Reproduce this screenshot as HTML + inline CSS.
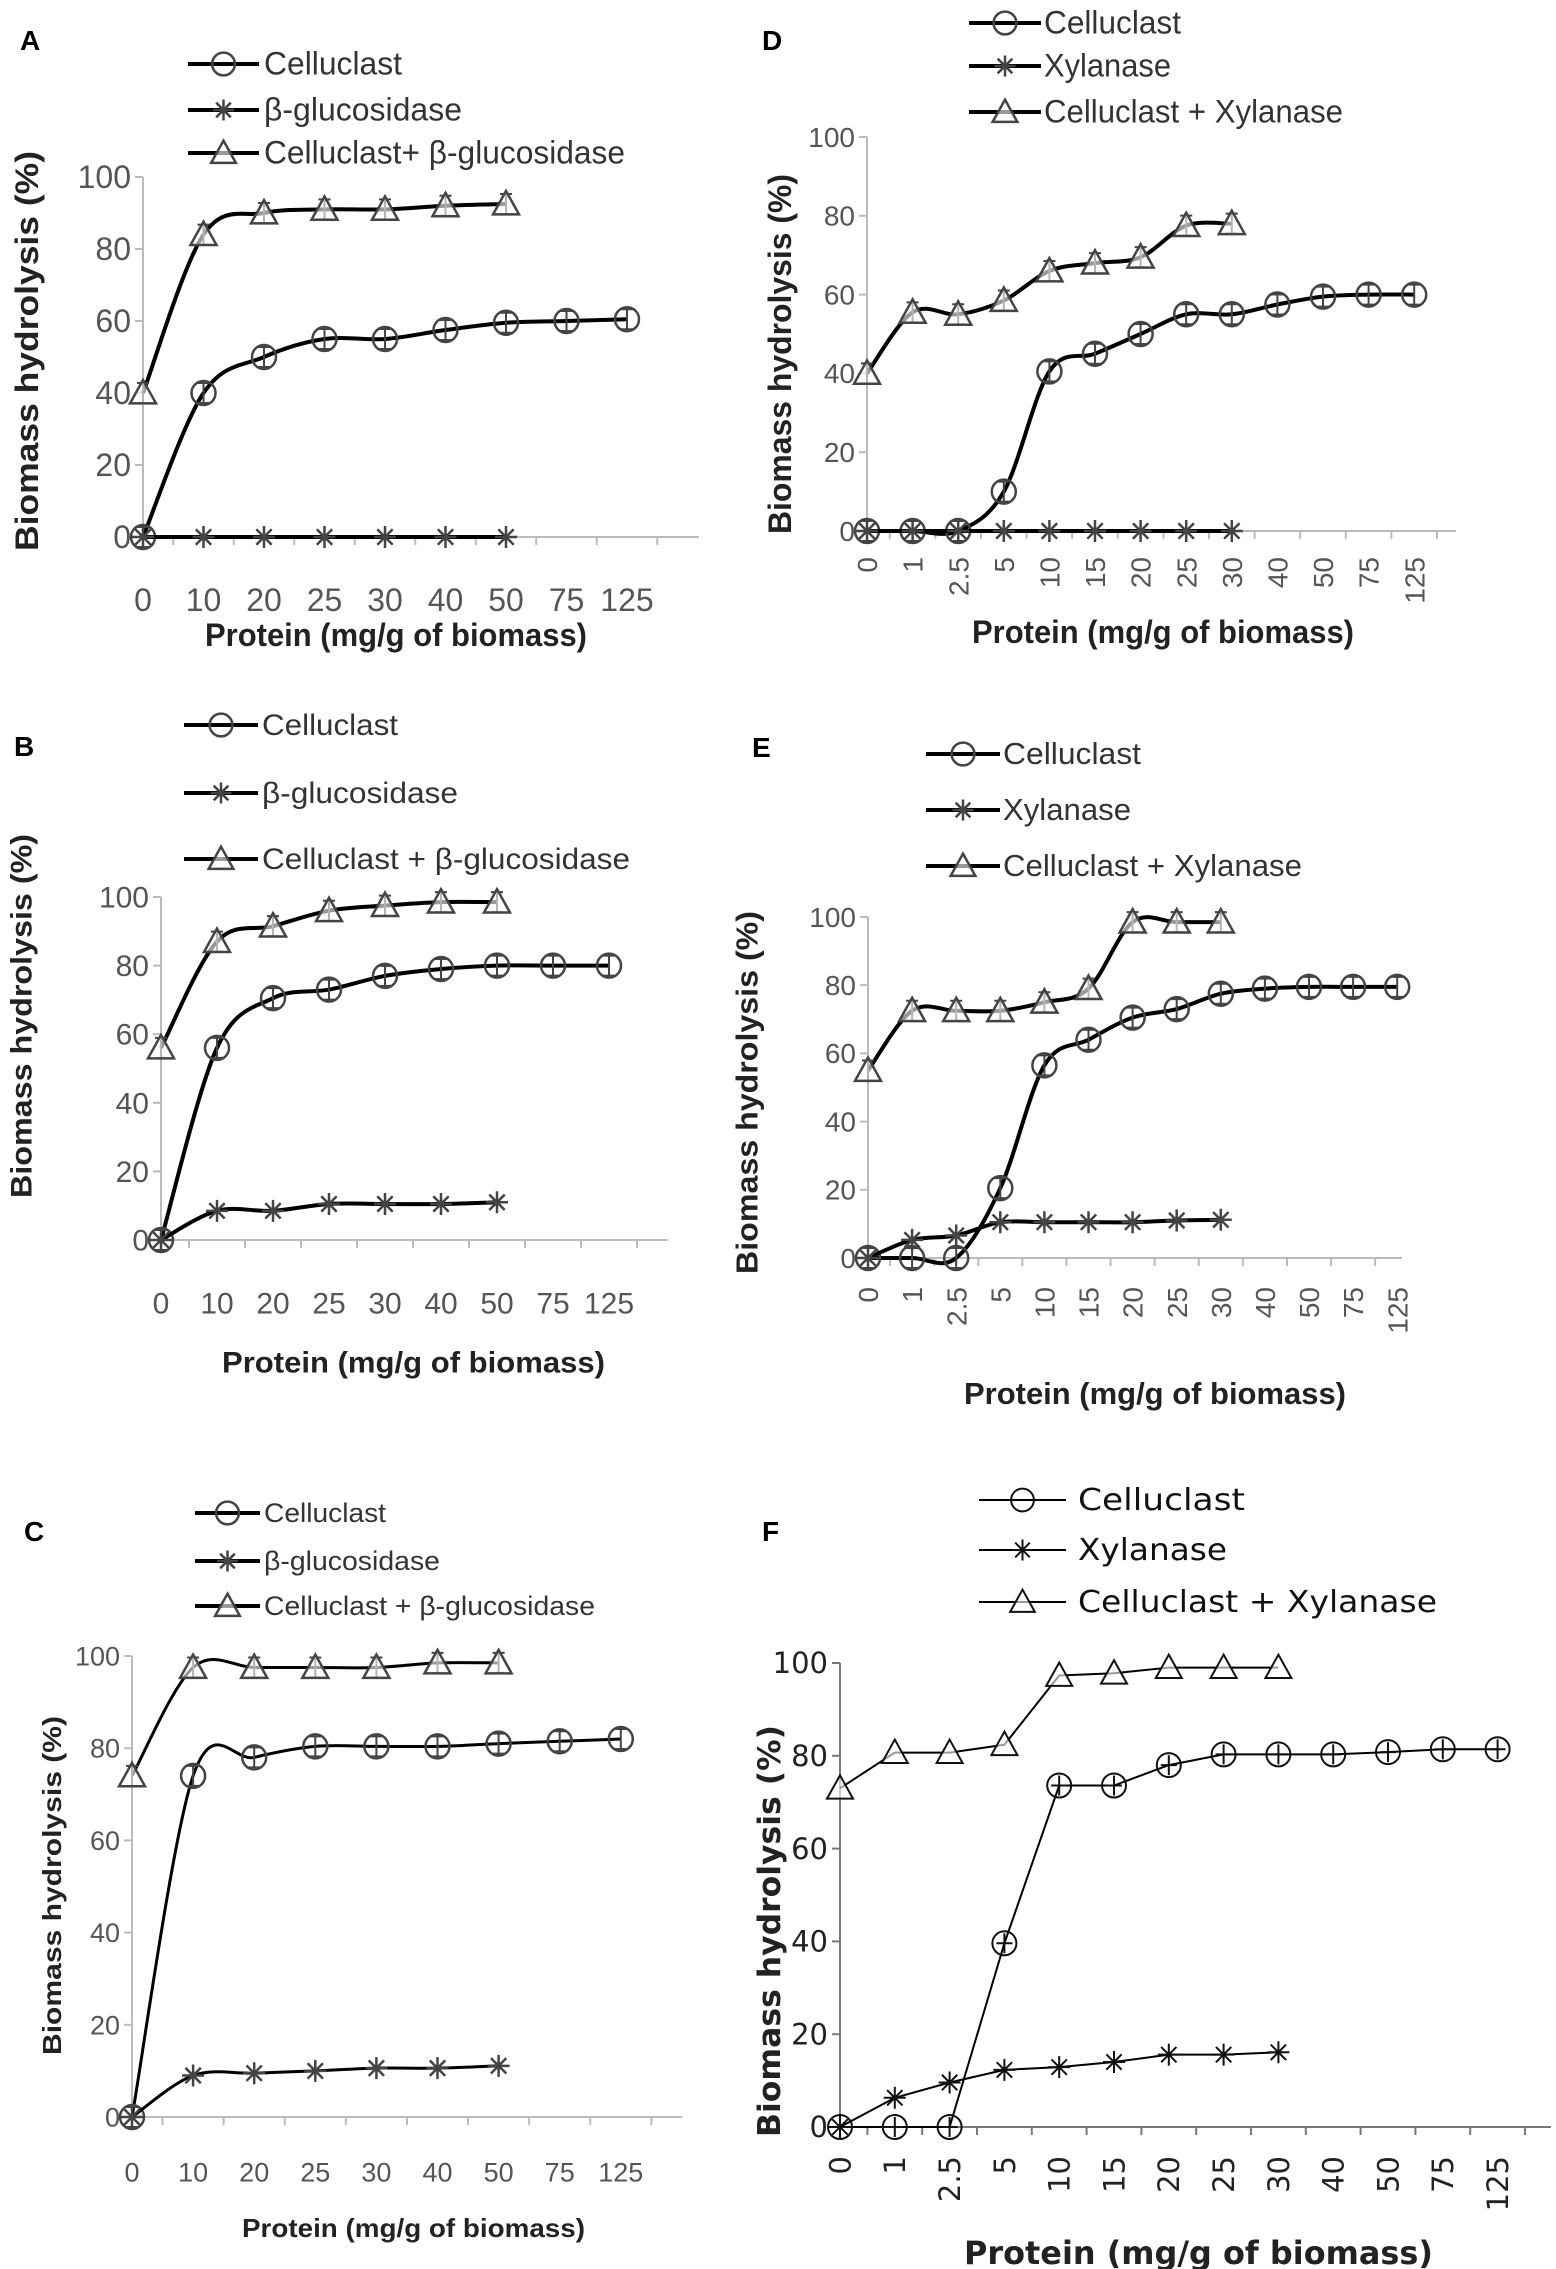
<!DOCTYPE html>
<html><head><meta charset="utf-8"><style>
html,body{margin:0;padding:0;background:#fff;}
svg{display:block;}
</style></head><body>
<svg id="fig" width="1556" height="2269" viewBox="0 0 1556 2269" xmlns="http://www.w3.org/2000/svg"></svg>
<script>
// ---- data ----
const catsBeta = ["0","10","20","25","30","40","50","75","125"];
const catsXyl = ["0","1","2.5","5","10","15","20","25","30","40","50","75","125"];
const yTicks = [0,20,40,60,80,100];

const aCellu = [0,40,50,55,55,57.5,59.5,60,60.5];
const aBeta = [0,0,0,0,0,0,0];
const aComb = [40,84,90,91,91,92,92.5];

const bCellu = [0,56,70.5,73,77,79,80,80,80];
const bBeta = [0,8.5,8.5,10.5,10.5,10.5,11];
const bComb = [56,87,91.5,96,97.5,98.5,98.5];

const cCellu = [0,74,78,80.4,80.4,80.4,81,81.5,82];
const cBeta = [0,9,9.5,10,10.6,10.6,11.1];
const cComb = [74,97.5,97.5,97.5,97.5,98.5,98.5];

const dCellu = [0,0,0,10,40.5,45,50,55,55,57.5,59.5,60,60];
const dXyl = [0,0,0,0,0,0,0,0,0];
const dComb = [40,55.5,55,58.5,66,68,69.5,77.5,78];

const eCellu = [0,0,0,20.5,56.5,64,70.5,73,77.5,79,79.5,79.5,79.5];
const eXyl = [0,5.3,6.6,10.5,10.5,10.5,10.5,11,11.2];
const eComb = [55,72.5,72.5,72.5,75,79,98.5,98.5,98.5];

const fCellu = [0,0,0,39.6,73.6,73.6,78,80.3,80.3,80.3,80.8,81.4,81.4];
const fXyl = [0,6.3,9.6,12.3,12.9,14,15.6,15.6,16.1];
const fComb = [73,80.7,80.7,82.4,97.3,97.8,99,99,99];

// ---- layout ----
const NS = "http://www.w3.org/2000/svg";
const svg = document.getElementById('fig');
function el(tag, attrs, parent, text){
  const e = document.createElementNS(NS, tag);
  for (const k in attrs) e.setAttribute(k, attrs[k]);
  if (text !== undefined) e.textContent = text;
  (parent || svg).appendChild(e);
  return e;
}
const NARROW = '"Liberation Sans Narrow","Liberation Sans",sans-serif';
const WIDE = '"DejaVu Sans","Liberation Sans",sans-serif';

const panels = [
 {id:'a', letter:'A', lx:20, ly:50, cats:catsBeta, x0:143, step:60.5, y0:537, y100:177, xend:699,
  rot:false, tickY:600, tickFs:32, titleY:635, titleX1:205, titleX2:587, titleFs:32,
  yt:{x:27, y1:551, y2:151, fs:32}, lw:4,
  leg:{x1:188, x2:259, tx:264, rows:[64,110,153], fs:32, widths:[138,198,361]},
  names:["Celluclast","β-glucosidase","Celluclast+ β-glucosidase"],
  series:[aCellu,aBeta,aComb], smooth:true, font:NARROW},
 {id:'b', letter:'B', lx:14, ly:756, cats:catsBeta, x0:161, step:56, y0:1240, y100:897, xend:668,
  rot:false, tickY:1303, tickFs:30, titleY:1362, titleX1:222, titleX2:605, titleFs:30,
  yt:{x:22, y1:1198, y2:834, fs:30}, lw:4,
  leg:{x1:184, x2:258, tx:262, rows:[725,793,859], fs:30, widths:[136,196,368]},
  names:["Celluclast","β-glucosidase","Celluclast + β-glucosidase"],
  series:[bCellu,bBeta,bComb], smooth:true, font:NARROW},
 {id:'c', letter:'C', lx:24, ly:1541, cats:catsBeta, x0:132, step:61.1, y0:2117, y100:1656, xend:682,
  rot:false, tickY:2172, tickFs:27, titleY:2228, titleX1:242, titleX2:585, titleFs:26,
  yt:{x:52, y1:2055, y2:1716, fs:26}, lw:3,
  leg:{x1:195, x2:260, tx:264, rows:[1513,1561,1606], fs:27, widths:[122,176,331]},
  names:["Celluclast","β-glucosidase","Celluclast + β-glucosidase"],
  series:[cCellu,cBeta,cComb], smooth:true, font:NARROW},
 {id:'d', letter:'D', lx:762, ly:50, cats:catsXyl, x0:867, step:45.6, y0:531, y100:137, xend:1456,
  rot:true, tickY:557, tickFs:28, titleY:632, titleX1:972, titleX2:1354, titleFs:32,
  yt:{x:780, y1:534, y2:174, fs:32}, lw:4,
  leg:{x1:969, x2:1041, tx:1044, rows:[23,66,112], fs:32, widths:[137,127,299]},
  names:["Celluclast","Xylanase","Celluclast + Xylanase"],
  series:[dCellu,dXyl,dComb], smooth:true, font:NARROW},
 {id:'e', letter:'E', lx:752, ly:757, cats:catsXyl, x0:868, step:44.1, y0:1258, y100:917, xend:1402,
  rot:true, tickY:1287, tickFs:28, titleY:1393, titleX1:964, titleX2:1346, titleFs:31,
  yt:{x:747, y1:1274, y2:911, fs:31}, lw:4,
  leg:{x1:926, x2:1000, tx:1003, rows:[754,810,866], fs:31, widths:[138,128,299]},
  names:["Celluclast","Xylanase","Celluclast + Xylanase"],
  series:[eCellu,eXyl,eComb], smooth:true, font:NARROW},
 {id:'f', letter:'F', lx:762, ly:1541, cats:catsXyl, x0:840, step:54.8, y0:2127, y100:1663, xend:1551,
  rot:true, tickY:2156, tickFs:29, titleY:2253, titleX1:964, titleX2:1433, titleFs:32,
  yt:{x:770, y1:2137, y2:1725, fs:31}, lw:2,
  leg:{x1:979, x2:1066, tx:1078, rows:[1500,1550,1602], fs:30, widths:[167,149,359]},
  names:["Celluclast","Xylanase","Celluclast + Xylanase"],
  series:[fCellu,fXyl,fComb], smooth:false, font:WIDE, thin:true}
];

function pathFor(pts, smooth){
  if (!smooth) return 'M' + pts.map(p => p[0].toFixed(1)+','+p[1].toFixed(1)).join(' L');
  let d = 'M'+pts[0][0].toFixed(1)+','+pts[0][1].toFixed(1);
  for (let i=0;i<pts.length-1;i++){
    const p0 = pts[Math.max(0,i-1)], p1 = pts[i], p2 = pts[i+1], p3 = pts[Math.min(pts.length-1,i+2)];
    const c1 = [p1[0]+(p2[0]-p0[0])/6, p1[1]+(p2[1]-p0[1])/6];
    const c2 = [p2[0]-(p3[0]-p1[0])/6, p2[1]-(p3[1]-p1[1])/6];
    d += ' C'+c1.map(v=>v.toFixed(1)).join(',')+' '+c2.map(v=>v.toFixed(1)).join(',')+' '+p2.map(v=>v.toFixed(1)).join(',');
  }
  return d;
}

function marker(g, kind, x, y, thin, s){
  const sc = s || 1;
  const sw = thin ? 2 : 2.5;
  const col = thin ? '#111' : '#444';
  if (kind === 0){
    el('circle',{cx:x, cy:y, r:12*sc, fill:'none', stroke:col, 'stroke-width':sw}, g);
  } else if (kind === 1){
    const r = 11*sc;
    const d = `M${x-r},${y} L${x+r},${y} M${x-r*0.7},${y-r*0.7} L${x+r*0.7},${y+r*0.7} M${x-r*0.7},${y+r*0.7} L${x+r*0.7},${y-r*0.7} M${x},${y-r} L${x},${y+r}`;
    el('path',{d:d, stroke:col, 'stroke-width':sw, fill:'none'}, g);
  } else {
    const r = 13*sc;
    el('path',{d:`M${x},${y-r} L${x+r},${y+r*0.8} L${x-r},${y+r*0.8} Z`, fill:'#fff', 'fill-opacity':0.6, stroke:col, 'stroke-width':sw}, g);
  }
}

panels.forEach(P => {
  const g = el('g',{});
  
  
  const xs = i => P.x0 + i*P.step;
  const ys = v => P.y0 - (v/100)*(P.y0-P.y100);

  const lab = el('text',{x:P.lx, y:P.ly, 'font-family':'"Liberation Sans",sans-serif', 'font-weight':'bold', 'font-size':28, fill:'#000'}, g, P.letter);
  
  

  const axCol = P.thin ? '#777' : '#bbb';
  const yax = el('line',{x1:P.x0, y1:P.y100, x2:P.x0, y2:P.y0, stroke:axCol, 'stroke-width':2}, g);
  
  
  const xax = el('line',{x1:P.x0, y1:P.y0, x2:P.xend, y2:P.y0, stroke:axCol, 'stroke-width':2}, g);
  
  

  const tickCol = P.thin ? '#222' : '#555';
  yTicks.forEach(v => {
    const y = ys(v);
    el('line',{x1:P.x0-8, y1:y, x2:P.x0, y2:y, stroke:axCol, 'stroke-width':2}, g);
    const t = el('text',{x:P.x0-12, y:y+P.tickFs*0.35, 'text-anchor':'end', 'font-family':P.font, 'font-size':P.tickFs, fill:tickCol}, g, String(v));
    
    
  });
  for (let i=0;i<=P.cats.length;i++){
    const x = P.x0 + (i+0.5)*P.step;
    if (x <= P.xend) el('line',{x1:x, y1:P.y0, x2:x, y2:P.y0+8, stroke:axCol, 'stroke-width':2}, g);
  }
  P.cats.forEach((c,i) => {
    let t;
    if (P.rot){
      const x = xs(i)+P.tickFs*0.36;
      t = el('text',{x:x, y:P.tickY, 'text-anchor':'end', transform:`rotate(-90 ${x} ${P.tickY})`, 'font-family':P.font, 'font-size':P.tickFs, fill:tickCol}, g, c);
    } else {
      t = el('text',{x:xs(i), y:P.tickY+P.tickFs*0.35, 'text-anchor':'middle', 'font-family':P.font, 'font-size':P.tickFs, fill:tickCol}, g, c);
    }
    
    
  });

  const xt = el('text',{x:P.titleX1, y:P.titleY+P.titleFs*0.35, 'font-family':P.font, 'font-weight':'bold', 'font-size':P.titleFs, fill:'#222', textLength:P.titleX2-P.titleX1, lengthAdjust:'spacingAndGlyphs'}, g, 'Protein (mg/g of biomass)');
  
  
  const yc = (P.yt.y1+P.yt.y2)/2;
  const yt = el('text',{x:P.yt.x, y:yc, 'text-anchor':'middle', 'dominant-baseline':'central', transform:`rotate(-90 ${P.yt.x} ${yc})`, 'font-family':P.font, 'font-weight':'bold', 'font-size':P.yt.fs, fill:'#222', textLength:P.yt.y1-P.yt.y2, lengthAdjust:'spacingAndGlyphs'}, g, 'Biomass hydrolysis (%)');
  
  

  P.series.forEach((vals, k) => {
    const sg = el('g',{}, g);
    
    
    const pts = vals.map((v,i) => [xs(i), ys(v)]);
    el('path',{d:pathFor(pts, P.smooth), fill:'none', stroke:'#000', 'stroke-width':P.lw, 'stroke-linejoin':'round'}, sg);
    pts.forEach(p => {
      if (k !== 1 && !P.thin){
        el('path',{d:`M${p[0]},${p[1]-10} L${p[0]},${p[1]+10} M${p[0]-6},${p[1]-10} L${p[0]+6},${p[1]-10} M${p[0]-6},${p[1]+10} L${p[0]+6},${p[1]+10}`, stroke:'#444', 'stroke-width':2, fill:'none'}, sg);
      }
      if (k === 0 && P.thin){
        el('path',{d:`M${p[0]},${p[1]-10} L${p[0]},${p[1]+10} M${p[0]-8},${p[1]} L${p[0]+8},${p[1]}`, stroke:'#111', 'stroke-width':2, fill:'none'}, sg);
      }
      marker(sg, k, p[0], p[1], P.thin);
    });
  });

  P.names.forEach((n,k) => {
    const lg = el('g',{}, g);
    
    
    const y = P.leg.rows[k];
    el('line',{x1:P.leg.x1, y1:y, x2:P.leg.x2, y2:y, stroke:'#000', 'stroke-width':P.thin?2:4}, lg);
    marker(lg, k, (P.leg.x1+P.leg.x2)/2, y, P.thin, 0.95);
    el('text',{x:P.leg.tx, y:y+P.leg.fs*0.33, 'font-family':P.font, 'font-size':P.leg.fs, fill:P.thin?'#111':'#333', textLength:P.leg.widths[k], lengthAdjust:'spacingAndGlyphs'}, lg, n);
  });
});
</script>
</body></html>
